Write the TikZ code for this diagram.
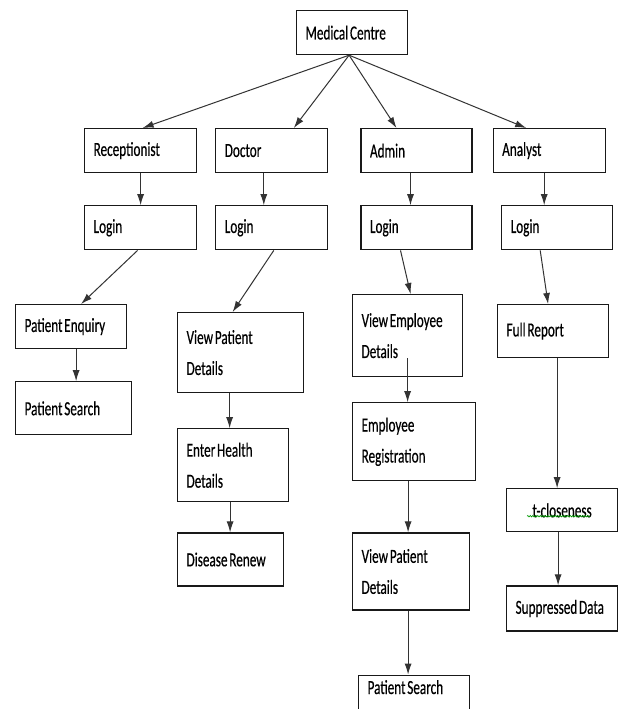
\documentclass[tikz,border=0pt]{standalone}
\usepackage{fontspec}
\setmainfont[FakeStretch=0.66, FakeBold=0.4, WordSpace=0.6]{Carlito}
\usepackage{tikz}
\usetikzlibrary{shapes.geometric, arrows.meta, positioning, decorations.pathmorphing}
\tikzstyle{box} = [rectangle, draw=black!90, line width=1.2pt, minimum height=44pt, inner xsep=9pt, inner ysep=0pt, align=flush left, text=black, font=\fontsize{20pt}{31pt}\selectfont]
\tikzstyle{arrow} = [line width=1pt, draw=black!80, -{Latex[length=11pt,width=7pt]}]

\begin{document}
\begin{tikzpicture}[x=1pt, y=1pt, node distance=32pt]
\path[use as bounding box, clip] (0,0) rectangle (621,-709);
\fill[white] (0,0) rectangle (621,-709);

\node (medical) [box, text width=93pt, anchor=north west] at (296,-10) {Medical Centre};

% roles
\node (recep) [box, text width=94pt, anchor=north west] at (84,-128) {Receptionist};
\node (doctor) [box, text width=94pt, right=18pt of recep.north east, anchor=north west] {Doctor};
\node (admin) [box, text width=93pt, right=32pt of doctor.north east, anchor=north west] {Admin};
\node (analyst) [box, text width=94pt, right=20pt of admin.north east, anchor=north west] {Analyst};

\coordinate (hub) at ([xshift=-3pt]medical.south);
\draw [arrow] (hub) -- ([xshift=2pt]recep.north);
\draw [arrow] (hub) -- ([xshift=22pt]doctor.north);
\draw [arrow] (hub) -- ([xshift=-20pt]admin.north);
\draw [arrow] (hub) -- ([xshift=-23pt]analyst.north);

\node (reclogin) [box, text width=94pt, below=of recep] {Login};
\node (doclogin) [box, text width=94pt, below=of doctor] {Login};
\node (admlogin) [box, text width=93pt, below=of admin] {Login};
\node (anlogin) [box, text width=93pt, below=of analyst, xshift=8pt] {Login};

\draw [arrow] (recep) -- (reclogin);
\draw [arrow] ([xshift=-8pt]doctor.south) -- ([xshift=-8pt]doctor.south |- doclogin.north);
\draw [arrow] ([xshift=-6pt]admin.south) -- ([xshift=-6pt]admin.south |- admlogin.north);
\draw [arrow] ([xshift=-5pt]analyst.south) -- ([xshift=-5pt]analyst.south |- anlogin.north);

% receptionist
\node (enquiry) [box, text width=93pt, anchor=north west] at (15,-304) {Patient Enquiry};
\node (psearch) [box, text width=98pt, minimum height=53pt, below=of enquiry.south west, anchor=north west] {Patient Search};

\draw [arrow] ([xshift=-3pt]reclogin.south) -- ([xshift=10pt]enquiry.north);
\draw [arrow] ([xshift=5pt]enquiry.south) -- ([xshift=5pt]enquiry.south |- psearch.north);

% doctor
\node (viewpat) [box, text width=108pt, minimum height=80pt, anchor=north west] at (177,-312) {View Patient\\Details};
\node (health) [box, text width=93pt, minimum height=73pt, below=35pt of viewpat.south west, anchor=north west] {Enter Health\\Details};
\node (disease) [box, text width=88pt, minimum height=53pt, below=30pt of health.south west, anchor=north west] {Disease Renew};

\draw [arrow] ([xshift=2pt]doclogin.south) -- ([xshift=-8pt]viewpat.north);
\draw [arrow] ([xshift=-11pt]viewpat.south) -- ([xshift=-11pt]viewpat.south |- health.north);
\draw [arrow] ([xshift=-3pt]health.south) -- ([xshift=-3pt]health.south |- disease.north);

% admin
\node (viewemp) [box, text width=92pt, minimum height=82pt, anchor=north west] at (352,-294) {View Employee\\Details};
\node (empreg) [box, text width=105pt, minimum height=78pt, below=25pt of viewemp.south west, anchor=north west] {Employee\\Registration};
\node (viewpat2) [box, text width=99pt, minimum height=77pt, below=51pt of empreg.south west, anchor=north west] {View Patient\\Details};
\node (psearch2) [box, text width=93pt, minimum height=60pt, below=64pt of viewpat2.south west, anchor=north west, xshift=6pt] {Patient Search\\[-4pt]\strut};

\draw [arrow] ([xshift=-16pt]admlogin.south) -- ([xshift=3pt]viewemp.north);
\draw [arrow] ([yshift=19pt]viewemp.south) -- (viewemp.south |- empreg.north);
\draw [arrow] ([xshift=-6pt]empreg.south) -- ([xshift=-6pt]empreg.south |- viewpat2.north);
\draw [arrow] ([xshift=-3pt]viewpat2.south) -- ([xshift=-3pt]viewpat2.south |- psearch2.north);

% analyst
\node (fullrep) [box, text width=93pt, minimum height=53pt, anchor=north west] at (497,-304) {Full Report};
\node (tclose) [box, text width=93pt, minimum height=43pt, align=center, below=130pt of fullrep.south west, anchor=north west, xshift=9pt] {t-closeness};
\node (suppressed) [box, text width=93pt, minimum height=45pt, below=53pt of tclose.south west, anchor=north west] {\mbox{Suppressed Data}};

\draw [arrow] ([xshift=-17pt]anlogin.south) -- ([xshift=-5pt]fullrep.north);
\draw [arrow] ([xshift=4pt]fullrep.south) -- ([xshift=4pt]fullrep.south |- tclose.north);
\draw [arrow] ([xshift=-4pt]tclose.south) -- ([xshift=-4pt]tclose.south |- suppressed.north);

\draw [green!60!black, line width=0.6pt, decorate, decoration={snake, amplitude=0.8pt, segment length=2.5pt}] ([shift={(21pt,-28pt)}]tclose.north west) -- ++(63,0);

\end{tikzpicture}
\end{document}
